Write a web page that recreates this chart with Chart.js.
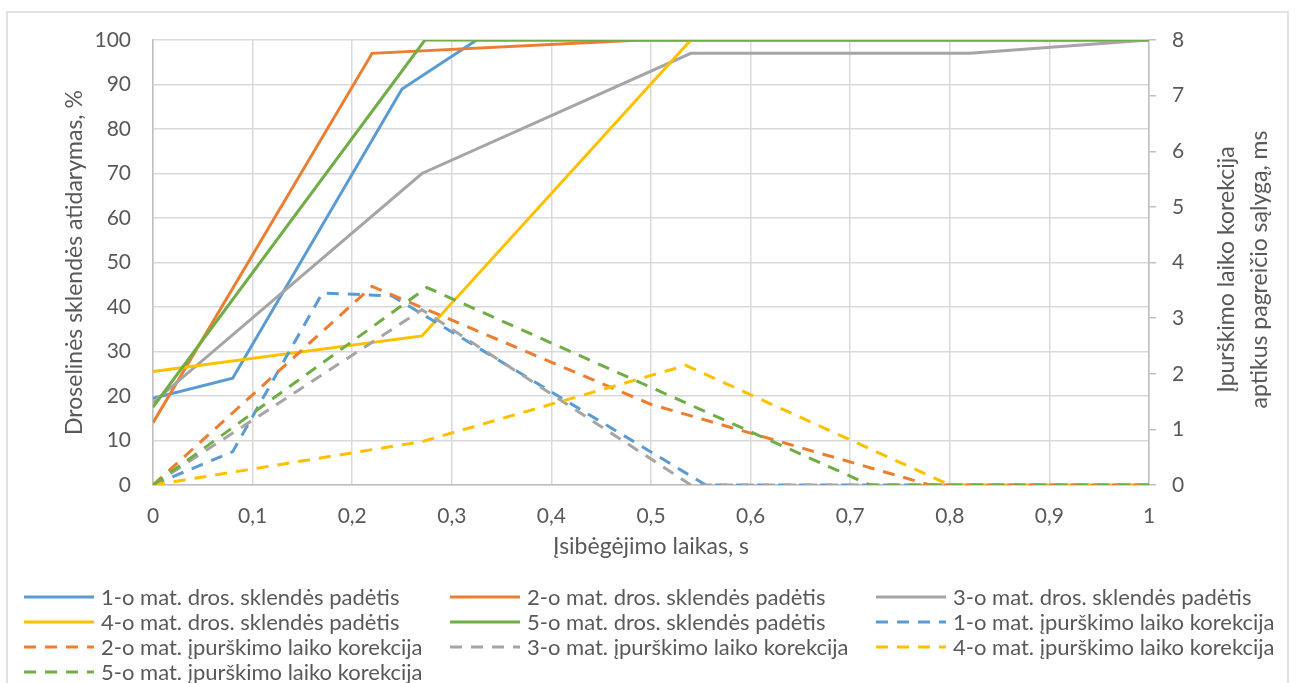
<!DOCTYPE html>
<html>
<head>
<meta charset="utf-8">
<script src="https://cdn.jsdelivr.net/npm/chart.js@4.4.1/dist/chart.umd.min.js"></script>
<style>
  html, body { margin: 0; padding: 0; background: #ffffff; }
  #wrap { width: 1299px; height: 683px; position: relative; }
  canvas { display: block; }
</style>
</head>
<body>
<div id="wrap"><canvas id="chart" width="1299" height="683"></canvas></div>
<script>
// Time axis, s
const xTickLabels = ['0', '0,1', '0,2', '0,3', '0,4', '0,5', '0,6', '0,7', '0,8', '0,9', '1'];
const yLeftTickLabels = ['0', '10', '20', '30', '40', '50', '60', '70', '80', '90', '100'];
const yRightTickLabels = ['0', '1', '2', '3', '4', '5', '6', '7', '8'];

const seriesNames = [
  '1-o mat. dros. sklendės padėtis',
  '2-o mat. dros. sklendės padėtis',
  '3-o mat. dros. sklendės padėtis',
  '4-o mat. dros. sklendės padėtis',
  '5-o mat. dros. sklendės padėtis',
  '1-o mat. įpurškimo laiko korekcija',
  '2-o mat. įpurškimo laiko korekcija',
  '3-o mat. įpurškimo laiko korekcija',
  '4-o mat. įpurškimo laiko korekcija',
  '5-o mat. įpurškimo laiko korekcija'
];

// Throttle position, % (left axis)
const throttleTime1 = [0, 0.08, 0.25, 0.325, 1];
const throttle1     = [19.5, 24, 89, 100, 100];
const throttleTime2 = [0, 0.22, 0.49, 1];
const throttle2     = [14, 97, 100, 100];
const throttleTime3 = [0, 0.27, 0.54, 0.82, 1];
const throttle3     = [18.5, 70, 97, 97, 100];
const throttleTime4 = [0, 0.27, 0.54, 1];
const throttle4     = [25.5, 33.5, 100, 100];
const throttleTime5 = [0, 0.273, 1];
const throttle5     = [17.5, 100, 100];

// Injection time correction, ms (right axis)
const corrTime1 = [0, 0.08, 0.17, 0.24, 0.555, 1];
const corr1     = [0, 0.6, 3.45, 3.4, 0, 0];
const corrTime2 = [0, 0.22, 0.5, 0.78, 1];
const corr2     = [0, 3.57, 1.45, 0, 0];
const corrTime3 = [0, 0.27, 0.54, 1];
const corr3     = [0, 3.15, 0, 0];
const corrTime4 = [0, 0.27, 0.535, 0.8, 1];
const corr4     = [0, 0.78, 2.15, 0, 0];
const corrTime5 = [0, 0.275, 0.72, 1];
const corr5     = [0, 3.55, 0, 0];

const palette = ['#5B9BD5', '#ED7D31', '#A5A5A5', '#FFC000', '#70AD47'];
const textColor = '#595959';
const gridColor = '#D9D9D9';
const axisColor = '#BFBFBF';
const fontFamily = 'Lato, "Open Sans", "Liberation Sans", sans-serif';
const dashPattern = [12, 9];

function toPoints(xs, ys) {
  return xs.map((x, i) => ({ x: x, y: ys[i] }));
}

const throttleSets = [
  [throttleTime1, throttle1], [throttleTime2, throttle2], [throttleTime3, throttle3],
  [throttleTime4, throttle4], [throttleTime5, throttle5]
];
const corrSets = [
  [corrTime1, corr1], [corrTime2, corr2], [corrTime3, corr3],
  [corrTime4, corr4], [corrTime5, corr5]
];

const datasets = [];
throttleSets.forEach((s, i) => {
  datasets.push({
    label: seriesNames[i],
    data: toPoints(s[0], s[1]),
    yAxisID: 'y',
    borderColor: palette[i],
    backgroundColor: palette[i],
    borderWidth: 3,
    borderDash: [],
    pointRadius: 0,
    tension: 0,
    showLine: true,
    order: 20 - i
  });
});
corrSets.forEach((s, i) => {
  datasets.push({
    label: seriesNames[5 + i],
    data: toPoints(s[0], s[1]),
    yAxisID: 'y2',
    borderColor: palette[i],
    backgroundColor: palette[i],
    borderWidth: 3,
    borderDash: dashPattern,
    pointRadius: 0,
    tension: 0,
    showLine: true,
    order: 15 - i
  });
});

// White background plus the light outer frame
const framePlugin = {
  id: 'frame',
  beforeDraw(chart) {
    const ctx = chart.ctx;
    ctx.save();
    ctx.fillStyle = '#ffffff';
    ctx.fillRect(0, 0, chart.width, chart.height);
    ctx.strokeStyle = gridColor;
    ctx.lineWidth = 1.5;
    ctx.strokeRect(7, 12, 1281, 720);
    ctx.restore();
  }
};

// Right axis title, reading bottom-to-top in two lines
const rightTitlePlugin = {
  id: 'rightTitle',
  afterDraw(chart) {
    const ctx = chart.ctx;
    const area = chart.chartArea;
    const cy = (area.top + area.bottom) / 2;
    ctx.save();
    ctx.fillStyle = textColor;
    ctx.font = '23px ' + fontFamily;
    ctx.textAlign = 'center';
    ctx.textBaseline = 'middle';
    ctx.translate(1227, cy + 7);
    ctx.rotate(-Math.PI / 2);
    ctx.fillText('Įpurškimo laiko korekcija', 0, 0);
    ctx.fillText('aptikus pagreičio sąlygą, ms', 0, 33);
    ctx.restore();
  }
};

// Legend laid out as a three-column grid
const gridLegendPlugin = {
  id: 'gridLegend',
  afterDraw(chart) {
    const ctx = chart.ctx;
    const colX = [24, 450, 876];
    const rowY0 = 597;
    const rowStep = 25;
    ctx.save();
    ctx.font = '22px ' + fontFamily;
    ctx.textBaseline = 'middle';
    ctx.textAlign = 'left';
    chart.data.datasets.forEach((ds, i) => {
      const col = i % 3;
      const row = Math.floor(i / 3);
      const x = colX[col];
      const y = rowY0 + row * rowStep;
      ctx.strokeStyle = ds.borderColor;
      ctx.lineWidth = 3;
      ctx.setLineDash(ds.borderDash || []);
      ctx.beginPath();
      ctx.moveTo(x, y);
      ctx.lineTo(x + 70, y);
      ctx.stroke();
      ctx.setLineDash([]);
      ctx.fillStyle = textColor;
      ctx.fillText(ds.label, x + 77, y + 1);
    });
    ctx.restore();
  }
};

const tickFont = { family: fontFamily, size: 21 };
const titleFont = { family: fontFamily, size: 23 };

new Chart(document.getElementById('chart'), {
  type: 'scatter',
  data: { datasets: datasets },
  options: {
    responsive: false,
    animation: false,
    devicePixelRatio: 1,
    layout: { padding: { top: 40, bottom: 123, left: 0, right: 0 } },
    plugins: {
      legend: { display: false },
      tooltip: { enabled: false }
    },
    scales: {
      x: {
        type: 'linear',
        min: 0,
        max: 1,
        afterBuildTicks(scale) {
          scale.ticks = xTickLabels.map((_, i) => ({ value: i / 10 }));
        },
        afterFit(scale) { scale.height = 75; },
        ticks: {
          color: textColor,
          font: tickFont,
          padding: 19,
          maxRotation: 0,
          autoSkip: false,
          callback: (v, i) => xTickLabels[i]
        },
        grid: { color: gridColor, lineWidth: 1.5, drawTicks: false },
        border: { display: true, color: axisColor, width: 1.5 },
        title: {
          display: true,
          text: 'Įsibėgėjimo laikas, s',
          color: textColor,
          font: titleFont,
          padding: { top: 0, bottom: 0 }
        }
      },
      y: {
        type: 'linear',
        position: 'left',
        min: 0,
        max: 100,
        afterBuildTicks(scale) {
          scale.ticks = yLeftTickLabels.map(t => ({ value: Number(t) }));
        },
        afterFit(scale) { scale.width = 153; },
        ticks: {
          color: textColor,
          font: tickFont,
          padding: 22,
          callback: (v, i) => yLeftTickLabels[i]
        },
        grid: { color: gridColor, lineWidth: 1.5, drawTicks: false },
        border: { display: true, color: axisColor, width: 1.5 },
        title: {
          display: true,
          text: 'Droselinės sklendės atidarymas, %',
          color: textColor,
          font: titleFont,
          padding: { top: 61, bottom: 0 }
        }
      },
      y2: {
        type: 'linear',
        position: 'right',
        min: 0,
        max: 8,
        afterBuildTicks(scale) {
          scale.ticks = yRightTickLabels.map(t => ({ value: Number(t) }));
        },
        afterFit(scale) { scale.width = 150; },
        ticks: {
          color: textColor,
          font: tickFont,
          padding: 16,
          callback: (v, i) => yRightTickLabels[i]
        },
        grid: { drawOnChartArea: false, color: axisColor, lineWidth: 1.5, drawTicks: true, tickLength: 7 },
        border: { display: true, color: axisColor, width: 1.5 }
      }
    }
  },
  plugins: [framePlugin, rightTitlePlugin, gridLegendPlugin]
});
</script>
</body>
</html>
